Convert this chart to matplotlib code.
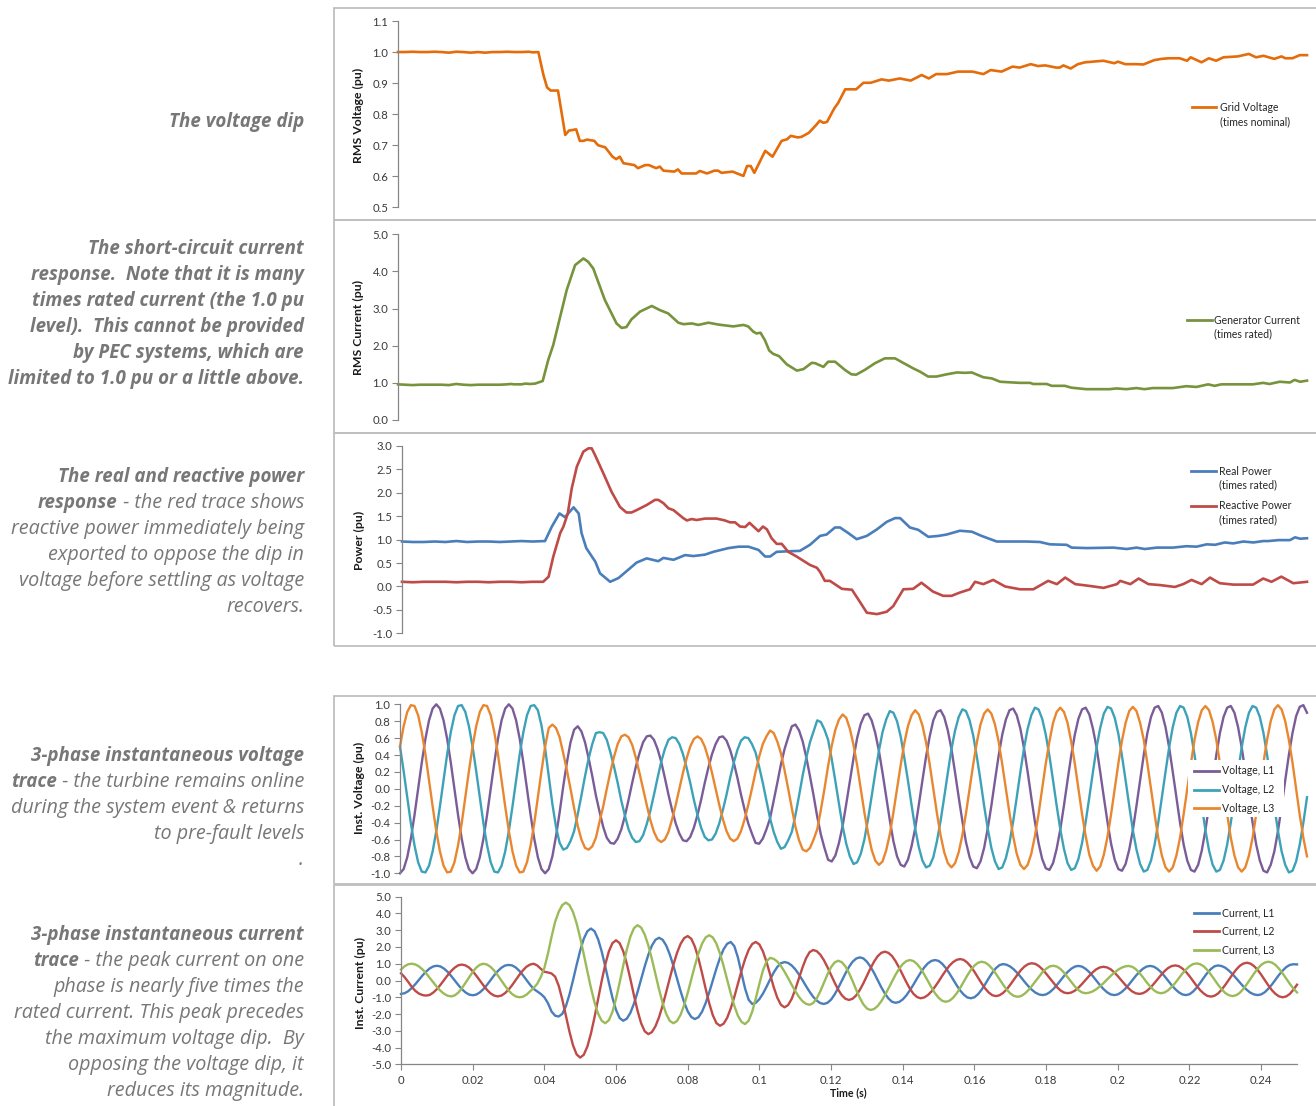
import numpy as np
import matplotlib
matplotlib.use("Agg")
import matplotlib.pyplot as plt
from matplotlib.lines import Line2D
from matplotlib.patches import Rectangle

# ---------------- data ----------------
# Panel 1: RMS grid voltage (pu)
v_rms_ms = [0, 2, 4, 6, 8, 10, 12, 14, 16, 18, 20, 22, 24, 26, 28, 30, 32, 34, 36, 37, 38.6,
            40, 41, 42, 44, 46, 47, 49, 50, 51, 52, 54, 55, 57, 59, 60, 61, 62, 64, 65, 66, 68, 69,
            71, 72, 73, 76, 77, 78, 82, 83, 85, 87, 88, 89, 92, 95, 96, 97, 98, 101, 103, 105.5,
            107, 108, 110, 111, 113, 115, 116, 117, 118, 120, 121, 123, 126, 128, 130, 133, 135,
            138, 141, 144, 146, 148, 151, 154, 158, 161, 163, 166, 169, 171, 174, 176, 178, 181,
            182, 183, 185, 187, 189, 194, 197, 198, 200, 203, 205, 208, 210, 212, 215, 217, 218,
            221, 223, 225, 227, 231, 234, 236, 238, 241, 243, 244, 246, 248, 250]
v_rms = [1.000, 1.000, 1.001, 1.000, 1.000, 1.001, 1.000, 0.998, 1.001, 1.000, 0.998, 1.000, 0.998,
         1.000, 1.000, 1.001, 1.000, 1.000, 1.001, 0.999, 1.000,
         0.926, 0.886, 0.876, 0.876, 0.733, 0.747, 0.751, 0.714, 0.714, 0.718, 0.714, 0.700, 0.693,
         0.663, 0.655, 0.663, 0.642, 0.638, 0.636, 0.626, 0.636, 0.636, 0.626, 0.631, 0.618, 0.615,
         0.622, 0.609, 0.609, 0.617, 0.609, 0.618, 0.618, 0.611, 0.615, 0.601, 0.633, 0.633, 0.611,
         0.682, 0.663, 0.714, 0.719, 0.730, 0.725, 0.727, 0.740, 0.765, 0.779, 0.772, 0.775, 0.819,
         0.835, 0.880, 0.880, 0.901, 0.901, 0.912, 0.908, 0.915, 0.908, 0.926, 0.915, 0.929, 0.929,
         0.937, 0.937, 0.929, 0.942, 0.937, 0.953, 0.950, 0.961, 0.955, 0.957, 0.950, 0.950, 0.957,
         0.947, 0.961, 0.967, 0.972, 0.964, 0.969, 0.961, 0.961, 0.960, 0.974, 0.978, 0.980, 0.980,
         0.972, 0.983, 0.967, 0.980, 0.972, 0.983, 0.986, 0.994, 0.983, 0.988, 0.978, 0.986, 0.980,
         0.980, 0.990, 0.990]

# Panel 2: RMS generator current (pu)
i_rms_ms = [0, 2, 4, 6, 8, 10, 12, 14, 16, 18, 20, 22, 24, 26, 28, 30, 31, 32, 34, 35, 36.3, 37.7,
            39.8, 41.3, 42.7, 44.6, 46.4, 48.7, 51, 52.3, 53.7, 56.9, 60.1, 61.5, 62.8, 64.2, 66.6,
            69.8, 72, 74.3, 77.1, 78.5, 80.8, 82.6, 85.4, 88.1, 92.2, 95, 96.3, 97.7, 98.6, 99.7,
            100.9, 102.1, 103.2, 104.8, 106.9, 109.7, 111.5, 113.8, 114.7, 117, 118.3, 120.2, 122.9,
            124.7, 126, 128.4, 131.2, 133.9, 136.7, 138.9, 141.7, 143.6, 145.8, 148.1, 150.9, 153.7,
            156, 157.8, 161, 163.3, 165.6, 171, 173.8, 174.7, 178.4, 179.8, 183.4, 185.2, 189.3,
            195.7, 197.6, 200.3, 203.1, 205.3, 207.6, 213.1, 216.8, 219.6, 222.8, 224.6, 226.4,
            235.1, 237.9, 239.7, 242.5, 245.3, 246.6, 248.1, 250]
i_rms = [0.96, 0.95, 0.94, 0.95, 0.95, 0.95, 0.95, 0.94, 0.97, 0.95, 0.94, 0.95, 0.95, 0.95, 0.95,
         0.96, 0.97, 0.96, 0.96, 0.98, 0.97, 0.98, 1.05, 1.61, 2.02, 2.78, 3.50, 4.17, 4.35, 4.26,
         4.08, 3.23, 2.60, 2.48, 2.50, 2.71, 2.92, 3.07, 2.96, 2.87, 2.62, 2.58, 2.60, 2.56, 2.62,
         2.57, 2.52, 2.56, 2.52, 2.38, 2.33, 2.35, 2.15, 1.87, 1.78, 1.72, 1.50, 1.33, 1.37, 1.54,
         1.53, 1.43, 1.57, 1.57, 1.35, 1.23, 1.22, 1.35, 1.53, 1.66, 1.66, 1.54, 1.39, 1.30, 1.17,
         1.17, 1.23, 1.28, 1.27, 1.28, 1.15, 1.12, 1.03, 1.00, 1.00, 0.97, 0.97, 0.92, 0.92, 0.87,
         0.83, 0.83, 0.85, 0.83, 0.86, 0.83, 0.86, 0.86, 0.91, 0.89, 0.96, 0.92, 0.96, 0.96, 1.00,
         0.97, 1.03, 1.01, 1.08, 1.03, 1.06]

# Panel 3: real and reactive power (pu)
p_ms = [0, 3, 6, 9, 12, 15, 18, 21, 24, 27, 30, 33, 36, 39.5, 41.4, 43.5, 45, 47.4, 48.8, 49.6, 50.9,
        53.4, 54.7, 57.5, 59.8, 63, 64.8, 67.6, 70.8, 72.2, 75, 78.2, 80.5, 83.7, 86, 90.2, 93, 95.7,
        98.5, 100.3, 101.7, 103.5, 106.3, 109.9, 112.7, 115.5, 117.3, 119.6, 121, 123.3, 125.6,
        128.4, 131.2, 133.9, 136.2, 137.6, 140.3, 142.6, 145.4, 148.2, 150.5, 154.1, 157.4, 160.1,
        164.3, 170.7, 172.6, 176.2, 179, 183.6, 185, 189.2, 196.5, 200.2, 202.9, 205.2, 208.5, 213,
        216.7, 219.5, 222.3, 224.6, 227.3, 229.6, 232.4, 235.2, 237.9, 239.3, 242.1, 245.3, 246.7,
        248.1, 250]
p_real = [0.96, 0.95, 0.95, 0.96, 0.95, 0.97, 0.95, 0.96, 0.96, 0.95, 0.96, 0.97, 0.96, 0.97, 1.28,
          1.56, 1.48, 1.69, 1.56, 1.14, 0.82, 0.53, 0.28, 0.10, 0.18, 0.39, 0.51, 0.60, 0.54, 0.61,
          0.57, 0.67, 0.65, 0.68, 0.74, 0.82, 0.85, 0.85, 0.78, 0.64, 0.64, 0.74, 0.75, 0.76, 0.89,
          1.08, 1.11, 1.26, 1.26, 1.14, 1.01, 1.08, 1.22, 1.38, 1.46, 1.46, 1.26, 1.21, 1.06, 1.08,
          1.11, 1.19, 1.17, 1.08, 0.96, 0.96, 0.96, 0.95, 0.90, 0.89, 0.83, 0.82, 0.83, 0.80, 0.83,
          0.80, 0.83, 0.83, 0.86, 0.85, 0.90, 0.89, 0.94, 0.92, 0.96, 0.94, 0.97, 0.97, 0.99, 0.99,
          1.05, 1.02, 1.03]
q_ms = [0, 3, 6, 9, 12, 15, 18, 21, 24, 27, 30, 33, 36, 39, 40.5, 41.8, 43.7, 44.6, 45.8, 46.9, 48.3,
        50.1, 51.5, 52.4, 53.3, 55.6, 57.9, 60.2, 62, 63.4, 64.8, 67.6, 69.9, 70.8, 72.2, 73.6, 75,
        77.7, 78.7, 80, 81.4, 83.7, 86.9, 89.2, 90.6, 92, 93.4, 94.8, 96, 97.1, 98.5, 99.7, 100.8,
        102.1, 103.5, 104.9, 106.7, 109, 112.7, 114.6, 115.5, 116.8, 118.2, 121.5, 124.3, 126.5,
        128.4, 131.2, 133.9, 135.7, 138.5, 141.2, 143.5, 146.7, 149.5, 151.8, 154.1, 156.9, 158.3,
        160.6, 163.3, 166.6, 170.7, 174.4, 178.5, 180.9, 183.2, 186, 190.1, 193.8, 197.5, 198.4,
        201.2, 203.5, 206.2, 209.4, 213.5, 215.8, 218.1, 220.9, 223.2, 225.9, 229.6, 235.1, 237.9,
        240.2, 242.9, 246.2, 250]
q_reactive = [0.10, 0.09, 0.10, 0.10, 0.10, 0.09, 0.10, 0.10, 0.09, 0.10, 0.10, 0.09, 0.10, 0.10,
              0.21, 0.64, 1.14, 1.28, 1.56, 2.10, 2.56, 2.88, 2.95, 2.95, 2.81, 2.42, 2.02, 1.70,
              1.58, 1.58, 1.63, 1.74, 1.85, 1.85, 1.78, 1.67, 1.63, 1.46, 1.41, 1.44, 1.42, 1.45,
              1.45, 1.41, 1.37, 1.37, 1.28, 1.27, 1.36, 1.28, 1.18, 1.28, 1.22, 1.03, 0.91, 0.91,
              0.74, 0.64, 0.46, 0.40, 0.31, 0.12, 0.12, -0.05, -0.07, -0.33, -0.56, -0.59, -0.54,
              -0.42, -0.06, -0.05, 0.08, -0.11, -0.20, -0.20, -0.13, -0.06, 0.10, 0.05, 0.14, 0.00,
              -0.06, -0.06, 0.12, 0.05, 0.19, 0.05, 0.01, -0.03, 0.05, 0.12, 0.05, 0.17, 0.05, 0.03,
              -0.01, 0.05, 0.14, 0.05, 0.19, 0.07, 0.04, 0.04, 0.17, 0.10, 0.21, 0.07, 0.10]

# Panels 4 & 5: instantaneous traces, sampled every 1 ms from 0 to 250 ms
inst_ms = np.arange(0, 251)

volt_L1 = [-1.00, -0.95, -0.81, -0.59, -0.31, 0.00, 0.31, 0.59, 0.81, 0.95, 1.00, 0.95, 0.81, 0.59, 0.31, 0.00, -0.31, -0.59, -0.81, -0.95,
           -1.00, -0.95, -0.81, -0.59, -0.31, 0.00, 0.31, 0.59, 0.81, 0.95, 1.00, 0.95, 0.81, 0.59, 0.31, 0.00, -0.31, -0.59, -0.81, -0.95,
           -1.00,
           -0.95, -0.80, -0.56, -0.28, 0.03, 0.31, 0.55, 0.70,
           0.74, 0.68, 0.55, 0.36, 0.15, -0.08, -0.27, -0.45, -0.58, -0.64, -0.65, -0.59,
           -0.48, -0.32, -0.13, 0.07, 0.26, 0.42, 0.55, 0.62, 0.63, 0.58,
           0.47, 0.32, 0.13, -0.07, -0.25, -0.41, -0.53, -0.61, -0.62, -0.57,
           -0.46, -0.31, -0.13, 0.07, 0.25, 0.41, 0.53, 0.61, 0.62, 0.57,
           0.46, 0.31, 0.13, -0.07, -0.25, -0.41, -0.53, -0.64, -0.65, -0.59,
           -0.48, -0.35, -0.14, 0.07, 0.29, 0.47, 0.61, 0.74, 0.76, 0.69,
           0.56, 0.37, 0.15, -0.08, -0.33, -0.54, -0.70, -0.84, -0.86, -0.79,
           -0.64, -0.44, -0.18, 0.09, 0.36, 0.60, 0.77, 0.87, 0.89, 0.81,
           0.66, 0.45, 0.19, -0.09, -0.37, -0.62, -0.80, -0.90, -0.92, -0.84,
           -0.68, -0.47, -0.19, 0.10, 0.38, 0.62, 0.81, 0.91, 0.93, 0.85,
           0.69, 0.47, 0.19, -0.10, -0.38, -0.63, -0.81, -0.92, -0.94, -0.86,
           -0.70, -0.47, -0.20, 0.10, 0.39, 0.64, 0.82, 0.93, 0.95, 0.87,
           0.71, 0.48, 0.20, -0.10, -0.39, -0.64, -0.83, -0.94, -0.96, -0.88,
           -0.71, -0.48, -0.20, 0.10, 0.39, 0.64, 0.83, 0.94, 0.96, 0.88,
           0.71, 0.49, 0.20, -0.10, -0.39, -0.65, -0.84, -0.95, -0.97, -0.89,
           -0.72, -0.49, -0.20, 0.10, 0.40, 0.66, 0.85, 0.96, 0.98, 0.90,
           0.73, 0.49, 0.20, -0.10, -0.40, -0.66, -0.85, -0.96, -0.98, -0.90,
           -0.73, -0.49, -0.20, 0.10, 0.40, 0.66, 0.85, 0.96, 0.98, 0.90,
           0.73, 0.49, 0.20, -0.10, -0.40, -0.66, -0.85, -0.97, -0.99, -0.90,
           -0.74, -0.50, -0.21, 0.10, 0.40, 0.66, 0.86, 0.97, 0.99, 0.90]

volt_L2 = [0.50, 0.21, -0.10, -0.41, -0.67, -0.87, -0.98, -0.99, -0.91, -0.74, -0.50, -0.21, 0.10, 0.41, 0.67, 0.87, 0.98, 0.99, 0.91, 0.74,
           0.50, 0.21, -0.10, -0.41, -0.67, -0.87, -0.98, -0.99, -0.91, -0.74, -0.50, -0.21, 0.10, 0.41, 0.67, 0.87, 0.98, 0.99,
           0.93, 0.75, 0.48, 0.15, -0.18, -0.45, -0.64,
           -0.72, -0.70, -0.62, -0.50, -0.30, -0.08,
           0.15, 0.36, 0.53, 0.66, 0.67, 0.66, 0.58, 0.43, 0.26, 0.07,
           -0.14, -0.32, -0.48, -0.58, -0.63, -0.62, -0.55, -0.42, -0.26, -0.07,
           0.13, 0.32, 0.47, 0.58, 0.61, 0.60, 0.53, 0.41, 0.25, 0.07,
           -0.13, -0.31, -0.46, -0.57, -0.61, -0.60, -0.53, -0.41, -0.25, -0.07,
           0.13, 0.31, 0.46, 0.57, 0.61, 0.60, 0.53, 0.43, 0.26, 0.07,
           -0.14, -0.35, -0.51, -0.63, -0.71, -0.69, -0.61, -0.51, -0.31, -0.08,
           0.16, 0.37, 0.55, 0.68, 0.81, 0.79, 0.70, 0.58, 0.35, 0.09,
           -0.18, -0.44, -0.65, -0.80, -0.89, -0.87, -0.77, -0.60, -0.36, -0.09,
           0.19, 0.45, 0.67, 0.82, 0.92, 0.90, 0.80, 0.62, 0.37, 0.10,
           -0.19, -0.47, -0.69, -0.85, -0.93, -0.91, -0.81, -0.62, -0.38, -0.10,
           0.19, 0.47, 0.69, 0.85, 0.94, 0.92, 0.81, 0.63, 0.38, 0.10,
           -0.20, -0.47, -0.70, -0.86, -0.95, -0.93, -0.82, -0.64, -0.39, -0.10,
           0.20, 0.48, 0.71, 0.87, 0.96, 0.94, 0.83, 0.64, 0.39, 0.10,
           -0.20, -0.48, -0.71, -0.88, -0.96, -0.94, -0.83, -0.64, -0.39, -0.10,
           0.20, 0.49, 0.72, 0.89, 0.97, 0.95, 0.84, 0.65, 0.39, 0.10,
           -0.20, -0.49, -0.72, -0.89, -0.98, -0.96, -0.85, -0.66, -0.40, -0.10,
           0.20, 0.49, 0.73, 0.90, 0.98, 0.96, 0.85, 0.66, 0.40, 0.10,
           -0.20, -0.49, -0.73, -0.90, -0.98, -0.96, -0.85, -0.66, -0.40, -0.10,
           0.20, 0.49, 0.73, 0.90, 0.98, 0.96, 0.85, 0.66, 0.40, 0.10,
           -0.21, -0.50, -0.74, -0.90, -0.99, -0.97, -0.86, -0.66, -0.40, -0.10]

volt_L3 = [0.50, 0.74, 0.91, 0.99, 0.98, 0.87, 0.67, 0.41, 0.10, -0.21, -0.50, -0.74, -0.91, -0.99, -0.98, -0.87, -0.67, -0.41, -0.10, 0.21,
           0.50, 0.74, 0.91, 0.99, 0.98, 0.87, 0.67, 0.41, 0.10, -0.21, -0.50, -0.74, -0.91, -0.99, -0.98, -0.87, -0.67, -0.41, -0.10, 0.21,
           0.50,
           0.72, 0.76, 0.72, 0.61, 0.42, 0.22, 0.00, -0.23, -0.44, -0.60,
           -0.70, -0.72, -0.68, -0.58, -0.39, -0.21, 0.00, 0.20, 0.38, 0.53,
           0.62, 0.64, 0.61, 0.52, 0.37, 0.19, 0.00, -0.19, -0.37, -0.51,
           -0.60, -0.63, -0.60, -0.51, -0.36, -0.19, 0.00, 0.19, 0.36, 0.50,
           0.59, 0.62, 0.59, 0.50, 0.36, 0.19, 0.00, -0.19, -0.36, -0.50,
           -0.59, -0.62, -0.59, -0.50, -0.36, -0.19, 0.00, 0.20, 0.38, 0.53,
           0.62, 0.69, 0.66, 0.56, 0.42, 0.22, 0.00, -0.23, -0.45, -0.61,
           -0.72, -0.74, -0.70, -0.60, -0.48, -0.25, 0.00, 0.27, 0.51, 0.70,
           0.82, 0.88, 0.84, 0.71, 0.52, 0.28, 0.00, -0.28, -0.52, -0.72,
           -0.85, -0.90, -0.86, -0.73, -0.54, -0.28, 0.00, 0.28, 0.54, 0.74,
           0.87, 0.93, 0.88, 0.75, 0.55, 0.29, 0.00, -0.29, -0.55, -0.75,
           -0.88, -0.93, -0.88, -0.75, -0.55, -0.29, 0.00, 0.29, 0.55, 0.76,
           0.89, 0.94, 0.89, 0.76, 0.56, 0.29, 0.00, -0.29, -0.56, -0.77,
           -0.90, -0.95, -0.90, -0.77, -0.56, -0.30, 0.00, 0.30, 0.56, 0.78,
           0.91, 0.96, 0.91, 0.78, 0.56, 0.30, 0.00, -0.30, -0.56, -0.78,
           -0.91, -0.97, -0.92, -0.78, -0.57, -0.30, 0.00, 0.30, 0.57, 0.78,
           0.92, 0.97, 0.92, 0.78, 0.58, 0.30, 0.00, -0.30, -0.58, -0.79,
           -0.93, -0.98, -0.93, -0.79, -0.58, -0.30, 0.00, 0.30, 0.58, 0.79,
           0.93, 0.98, 0.93, 0.79, 0.58, 0.30, 0.00, -0.30, -0.58, -0.79,
           -0.93, -0.98, -0.93, -0.79, -0.58, -0.30, 0.00, 0.31, 0.58, 0.80,
           0.94, 0.99, 0.94, 0.80, 0.58, 0.31, 0.00, -0.31, -0.58, -0.80]

curr_L1 = [-0.80, -0.76, -0.64, -0.45, -0.22, 0.04, 0.30, 0.53, 0.72, 0.84, 0.88,
           0.84, 0.71, 0.52, 0.27, 0.00, -0.27, -0.52, -0.71, -0.84, -0.88,
           -0.84, -0.71, -0.51, -0.26, 0.03, 0.31, 0.56, 0.76, 0.89, 0.93,
           0.90, 0.78, 0.58, 0.32, 0.03, -0.25, -0.50, -0.65, -0.80, -1.00,
           -1.35, -1.85, -2.10, -2.15, -1.99, -1.54, -0.84, 0.02, 0.93, 1.79,
           2.49, 2.94, 3.10, 2.94, 2.46, 1.73, 0.83, -0.13, -1.03, -1.76,
           -2.24, -2.40, -2.28, -1.93, -1.38, -0.69, 0.08, 0.84, 1.53, 2.08,
           2.43, 2.55, 2.43, 2.09, 1.55, 0.88, 0.13, -0.63, -1.30, -1.84,
           -2.18, -2.30, -2.19, -1.86, -1.35, -0.71, 0.00, 0.71, 1.35, 1.86,
           2.19, 2.30, 2.05, 1.38, 0.45, -0.48, -1.15, -1.40, -1.33, -1.11,
           -0.78, -0.37, 0.07, 0.48, 0.81, 1.03, 1.10, 1.05, 0.90, 0.67,
           0.37, 0.03, -0.33, -0.67, -0.97, -1.20, -1.35, -1.40, -1.33, -1.14,
           -0.83, -0.44, -0.01, 0.42, 0.81, 1.12, 1.31, 1.38, 1.32, 1.12,
           0.82, 0.45, 0.03, -0.40, -0.77, -1.07, -1.27, -1.33, -1.28, -1.13,
           -0.89, -0.58, -0.24, 0.13, 0.47, 0.78, 1.02, 1.17, 1.22, 1.17,
           1.00, 0.75, 0.43, 0.08, -0.27, -0.59, -0.84, -1.01, -1.06, -1.00,
           -0.82, -0.55, -0.22, 0.14, 0.47, 0.74, 0.92, 0.98, 0.94, 0.83,
           0.66, 0.44, 0.19, -0.08, -0.33, -0.55, -0.72, -0.83, -0.87, -0.83,
           -0.70, -0.51, -0.27, 0.00, 0.27, 0.51, 0.70, 0.83, 0.87, 0.83,
           0.70, 0.51, 0.27, 0.00, -0.27, -0.51, -0.70, -0.83, -0.87, -0.83,
           -0.70, -0.51, -0.27, 0.00, 0.27, 0.51, 0.70, 0.83, 0.87, 0.83,
           0.70, 0.51, 0.27, 0.00, -0.27, -0.51, -0.70, -0.83, -0.87, -0.82,
           -0.66, -0.43, -0.14, 0.17, 0.46, 0.69, 0.85, 0.90, 0.86, 0.76,
           0.59, 0.38, 0.14, -0.11, -0.35, -0.56, -0.73, -0.83, -0.87, -0.83,
           -0.70, -0.49, -0.24, 0.05, 0.34, 0.59, 0.80, 0.93, 0.97, 0.96]

curr_L2 = [0.43, 0.20, -0.08, -0.38, -0.62, -0.78, -0.87, -0.90, -0.86, -0.72, -0.52,
           -0.26, 0.03, 0.31, 0.57, 0.77, 0.91, 0.95, 0.90, 0.77, 0.56,
           0.29, 0.00, -0.29, -0.56, -0.77, -0.90, -0.95, -0.90, -0.76, -0.55,
           -0.28, 0.03, 0.33, 0.60, 0.82, 0.95, 1.00, 0.90, 0.70, 0.52,
           0.48, 0.42, 0.23, -0.31, -1.13, -2.09, -3.05, -3.87, -4.41, -4.60,
           -4.43, -3.94, -3.16, -2.19, -1.10, -0.02, 0.96, 1.74, 2.23, 2.40,
           2.23, 1.75, 1.00, 0.09, -0.89, -1.80, -2.55, -3.03, -3.20, -3.08,
           -2.73, -2.19, -1.49, -0.69, 0.14, 0.94, 1.64, 2.18, 2.53, 2.65,
           2.49, 2.02, 1.31, 0.44, -0.49, -1.36, -2.07, -2.54, -2.70, -2.58,
           -2.23, -1.67, -0.98, -0.20, 0.58, 1.27, 1.83, 2.18, 2.30, 2.15,
           1.73, 1.10, 0.35, -0.40, -1.03, -1.45, -1.60, -1.47, -1.10, -0.54,
           0.11, 0.76, 1.32, 1.69, 1.82, 1.75, 1.54, 1.21, 0.79, 0.33,
           -0.13, -0.55, -0.88, -1.09, -1.16, -1.09, -0.89, -0.57, -0.17, 0.28,
           0.73, 1.13, 1.45, 1.65, 1.72, 1.65, 1.46, 1.15, 0.76, 0.33,
           -0.10, -0.49, -0.80, -0.99, -1.06, -1.01, -0.87, -0.66, -0.37, -0.06,
           0.28, 0.59, 0.88, 1.09, 1.23, 1.28, 1.23, 1.07, 0.83, 0.52,
           0.18, -0.17, -0.48, -0.72, -0.88, -0.93, -0.88, -0.74, -0.53, -0.25,
           0.05, 0.35, 0.63, 0.84, 0.98, 1.03, 0.99, 0.86, 0.66, 0.41,
           0.14, -0.14, -0.39, -0.59, -0.72, -0.76, -0.72, -0.61, -0.43, -0.21,
           0.03, 0.27, 0.49, 0.67, 0.78, 0.82, 0.78, 0.67, 0.49, 0.26,
           0.01, -0.24, -0.47, -0.65, -0.76, -0.80, -0.76, -0.64, -0.45, -0.21,
           0.05, 0.31, 0.55, 0.74, 0.86, 0.90, 0.86, 0.72, 0.52, 0.26,
           -0.03, -0.32, -0.58, -0.78, -0.92, -0.96, -0.91, -0.77, -0.54, -0.26,
           0.05, 0.36, 0.64, 0.87, 1.01, 1.06, 1.01, 0.86, 0.64, 0.35,
           0.03, -0.29, -0.58, -0.80, -0.95, -1.00, -0.95, -0.80, -0.55, -0.25]

curr_L3 = [0.65, 0.85, 0.97, 1.00, 0.96, 0.84, 0.66, 0.43, 0.16, -0.11, -0.38,
           -0.61, -0.79, -0.91, -0.95, -0.89, -0.72, -0.46, -0.14, 0.19, 0.51,
           0.77, 0.94, 1.00, 0.95, 0.81, 0.59, 0.31, 0.00, -0.31, -0.59,
           -0.81, -0.95, -1.00, -0.97, -0.85, -0.65, -0.45, -0.20, 0.20, 0.75,
           1.60, 2.60, 3.50, 4.10, 4.50, 4.65, 4.50, 4.08, 3.41, 2.54,
           1.56, 0.54, -0.44, -1.31, -1.98, -2.40, -2.55, -2.37, -1.87, -1.09,
           -0.13, 0.88, 1.84, 2.62, 3.12, 3.30, 3.16, 2.74, 2.10, 1.28,
           0.38, -0.53, -1.35, -1.99, -2.41, -2.55, -2.42, -2.05, -1.47, -0.74,
           0.08, 0.89, 1.62, 2.20, 2.57, 2.70, 2.57, 2.20, 1.61, 0.87,
           0.05, -0.77, -1.51, -2.10, -2.47, -2.60, -2.40, -1.86, -1.06, -0.19,
           0.61, 1.15, 1.35, 1.29, 1.13, 0.87, 0.53, 0.15, -0.25, -0.63,
           -0.97, -1.23, -1.39, -1.45, -1.35, -1.07, -0.64, -0.14, 0.37, 0.80,
           1.08, 1.18, 1.09, 0.84, 0.45, -0.03, -0.55, -1.03, -1.42, -1.67,
           -1.76, -1.70, -1.52, -1.24, -0.89, -0.48, -0.06, 0.35, 0.70, 0.98,
           1.16, 1.22, 1.16, 0.98, 0.71, 0.36, -0.03, -0.41, -0.76, -1.03,
           -1.21, -1.27, -1.21, -1.04, -0.78, -0.45, -0.08, 0.30, 0.63, 0.89,
           1.06, 1.12, 1.07, 0.92, 0.69, 0.40, 0.08, -0.25, -0.54, -0.77,
           -0.92, -0.97, -0.93, -0.79, -0.59, -0.33, -0.05, 0.24, 0.50, 0.70,
           0.84, 0.88, 0.83, 0.69, 0.47, 0.20, -0.08, -0.35, -0.57, -0.71,
           -0.76, -0.73, -0.65, -0.52, -0.35, -0.16, 0.06, 0.27, 0.46, 0.63,
           0.76, 0.84, 0.87, 0.82, 0.68, 0.46, 0.20, -0.09, -0.35, -0.57,
           -0.71, -0.76, -0.72, -0.59, -0.39, -0.15, 0.13, 0.41, 0.65, 0.85,
           0.98, 1.02, 0.97, 0.84, 0.62, 0.35, 0.05, -0.26, -0.53, -0.75,
           -0.88, -0.93, -0.88, -0.74, -0.51, -0.22, 0.10, 0.41, 0.70, 0.93,
           1.07, 1.12, 1.07, 0.93, 0.70, 0.42, 0.11, -0.20, -0.48, -0.71]

time_ticks = [0, 0.02, 0.04, 0.06, 0.08, 0.1, 0.12, 0.14, 0.16, 0.18, 0.2, 0.22, 0.24]
time_tick_labels = ["0", "0.02", "0.04", "0.06", "0.08", "0.1", "0.12", "0.14", "0.16", "0.18",
                    "0.2", "0.22", "0.24"]

# ---------------- figure ----------------
W, H = 1316, 1106
fig = plt.figure(figsize=(W / 100, H / 100), dpi=100)
fig.patch.set_facecolor("white")
plt.rcParams["font.family"] = ["Lato", "DejaVu Sans"]
NOTE_FONT = ["Open Sans", "DejaVu Sans"]

def fx(px):
    return px / W

def fy(py):
    return 1 - py / H

def add_ax(left, top, right, bottom):
    return fig.add_axes([fx(left), fy(bottom), (right - left) / W, (bottom - top) / H])

AXC = "#868686"
TICKC = "#3a3a3a"

def style(ax, ylim, yticks):
    ax.set_xlim(0, 0.25)
    ax.set_ylim(*ylim)
    ax.set_yticks(yticks)
    ax.set_yticklabels(["{:.1f}".format(v) for v in yticks])
    for s in ["top", "right", "bottom"]:
        ax.spines[s].set_visible(False)
    ax.spines["left"].set_color(AXC)
    ax.spines["left"].set_linewidth(0.9)
    ax.tick_params(axis="y", length=4, width=0.8, color=AXC, labelsize=8.2,
                   labelcolor=TICKC, pad=3)
    ax.set_xticks([])
    ax.patch.set_alpha(0)

# panel borders
for (t, b) in [(8, 220), (220, 433), (433, 646), (696, 884), (885, 1112)]:
    fig.add_artist(Rectangle((fx(334), fy(b)), (1330 - 334) / W, (b - t) / H,
                             facecolor="none", edgecolor="#BFBFBF", lw=1.3, zorder=0.5))

def sec(ms):
    return np.asarray(ms, dtype=float) / 1000.0

# Panel 1
ax1 = add_ax(398, 21, 1307, 207.3)
ax1.plot(sec(v_rms_ms), v_rms, color="#E46C0A", lw=1.9, clip_on=False)
style(ax1, (0.5, 1.1), [0.5, 0.6, 0.7, 0.8, 0.9, 1.0, 1.1])

# Panel 2
ax2 = add_ax(398, 234.3, 1307, 420)
ax2.plot(sec(i_rms_ms), i_rms, color="#77933C", lw=1.9, clip_on=False)
style(ax2, (0, 5), [0, 1, 2, 3, 4, 5])

# Panel 3
ax3 = add_ax(402, 446, 1307, 633.3)
ax3.plot(sec(p_ms), p_real, color="#4A7EBB", lw=1.9, clip_on=False)
ax3.plot(sec(q_ms), q_reactive, color="#BE4B48", lw=1.9, clip_on=False)
style(ax3, (-1, 3), [-1.0, -0.5, 0.0, 0.5, 1.0, 1.5, 2.0, 2.5, 3.0])

# Panel 4
ax4 = add_ax(400, 704.3, 1307, 873.3)
vcols = ["#7A5C98", "#3DA2B8", "#E8872F"]
for ser, c in zip([volt_L1, volt_L2, volt_L3], vcols):
    ax4.plot(sec(inst_ms), ser, color=c, lw=1.7, clip_on=False)
style(ax4, (-1, 1), [-1.0, -0.8, -0.6, -0.4, -0.2, 0.0, 0.2, 0.4, 0.6, 0.8, 1.0])

# Panel 5
ax5 = add_ax(401, 896.7, 1297, 1064.3)
ccols = ["#4A7EBB", "#BE4B48", "#9BBB59"]
for ser, c in zip([curr_L1, curr_L2, curr_L3], ccols):
    ax5.plot(sec(inst_ms), ser, color=c, lw=1.7, clip_on=False)
style(ax5, (-5, 5), [-5.0, -4.0, -3.0, -2.0, -1.0, 0.0, 1.0, 2.0, 3.0, 4.0, 5.0])
ax5.spines["bottom"].set_visible(True)
ax5.spines["bottom"].set_color(AXC)
ax5.spines["bottom"].set_linewidth(0.9)
ax5.set_xticks(time_ticks)
ax5.set_xticklabels(time_tick_labels)
ax5.tick_params(axis="x", length=4, width=0.8, color=AXC, labelsize=8.2,
                labelcolor=TICKC, pad=4)

# y labels
ylabels = [("RMS Voltage (pu)", 358, 115), ("RMS Current (pu)", 358, 327.5),
           ("Power (pu)", 359, 540), ("Inst. Voltage (pu)", 359, 788),
           ("Inst. Current (pu)", 360, 983)]
for txt, x, y in ylabels:
    fig.text(fx(x), fy(y), txt, rotation=90, ha="center", va="center", fontsize=8.8,
             weight="bold", color="#1a1a1a")
fig.text(fx(848), fy(1093), "Time (s)", ha="center", va="center", fontsize=7.7,
         weight="bold", color="#1a1a1a")

# legends (drawn manually to mimic the original layout)
LEGC = "#262626"

def leg_entry(x0, x1, y, color, lines, tx, dy=14):
    fig.add_artist(Line2D([fx(x0), fx(x1)], [fy(y), fy(y)], color=color, lw=2.0, zorder=6))
    for k, s in enumerate(lines):
        fig.text(fx(tx), fy(y + k * dy), s, ha="left", va="center", fontsize=7.6,
                 color=LEGC, zorder=6)

leg_entry(1192, 1216, 107.5, "#E46C0A", ["Grid Voltage", "(times nominal)"], 1219.5)
leg_entry(1187, 1212, 320, "#77933C", ["Generator Current", "(times rated)"], 1214.5)
leg_entry(1191, 1216, 471, "#4A7EBB", ["Real Power", "(times rated)"], 1219)
leg_entry(1191, 1216, 505.5, "#BE4B48", ["Reactive Power", "(times rated)"], 1219)

fig.add_artist(Rectangle((fx(1188), fy(817)), (1284 - 1188) / W, (817 - 760) / H,
                         facecolor="white", edgecolor="none", zorder=5))
for y, c, s in zip([770.5, 789.5, 808], vcols, ["Voltage, L1", "Voltage, L2", "Voltage, L3"]):
    leg_entry(1193.5, 1218.5, y, c, [s], 1221.5)
fig.add_artist(Rectangle((fx(1188), fy(958)), (1290 - 1188) / W, (958 - 904) / H,
                         facecolor="white", edgecolor="none", zorder=5))
for y, c, s in zip([912.5, 931, 949.5], ccols, ["Current, L1", "Current, L2", "Current, L3"]):
    leg_entry(1193.5, 1218.5, y, c, [s], 1222)

# ---------------- left-hand commentary ----------------
GRAY = "#777777"
XR = 304
renderer = fig.canvas.get_renderer()

def measure(text, weight, size):
    t = fig.text(0, 0, text, fontsize=size, style="italic", weight=weight, family=NOTE_FONT)
    w = t.get_window_extent(renderer).width
    t.remove()
    return w

# size the commentary so the longest lines span the same width as in the original
FS_SIZE = {
    "bold": 10 * 296.0 / measure("limited to 1.0 pu or a little above.", "bold", 10),
    "normal": 10 * 293.0 / measure("reactive power immediately being", "normal", 10),
}

def rich_line(baseline, parts):
    x = XR
    for text, weight in reversed(parts):
        t = fig.text(fx(x), fy(baseline), text, ha="right", va="baseline",
                     fontsize=FS_SIZE[weight], style="italic", weight=weight, color=GRAY,
                     family=NOTE_FONT)
        bb = t.get_window_extent(renderer)
        x = bb.x0

def block(first_baseline, lines, step=26):
    for k, parts in enumerate(lines):
        if isinstance(parts, str):
            parts = [(parts, "normal")]
        rich_line(first_baseline + k * step, parts)

B = "bold"
block(127, [[("The voltage dip", B)]])
block(254, [[("The short-circuit current", B)],
            [("response.  Note that it is many", B)],
            [("times rated current (the 1.0 pu", B)],
            [("level).  This cannot be provided", B)],
            [("by PEC systems, which are", B)],
            [("limited to 1.0 pu or a little above.", B)]])
block(482, [[("The real and reactive power", B)],
            [("response", B), (" - the red trace shows", "normal")],
            "reactive power immediately being",
            "exported to oppose the dip in",
            "voltage before settling as voltage",
            "recovers."])
block(761, [[("3-phase instantaneous voltage", B)],
            [("trace", B), (" - the turbine remains online", "normal")],
            "during the system event & returns",
            "to pre-fault levels",
            "."])
block(940, [[("3-phase instantaneous current", B)],
            [("trace", B), (" - the peak current on one", "normal")],
            "phase is nearly five times the",
            "rated current. This peak precedes",
            "the maximum voltage dip.  By",
            "opposing the voltage dip, it",
            "reduces its magnitude."])

fig.savefig("out.png", dpi=100)
